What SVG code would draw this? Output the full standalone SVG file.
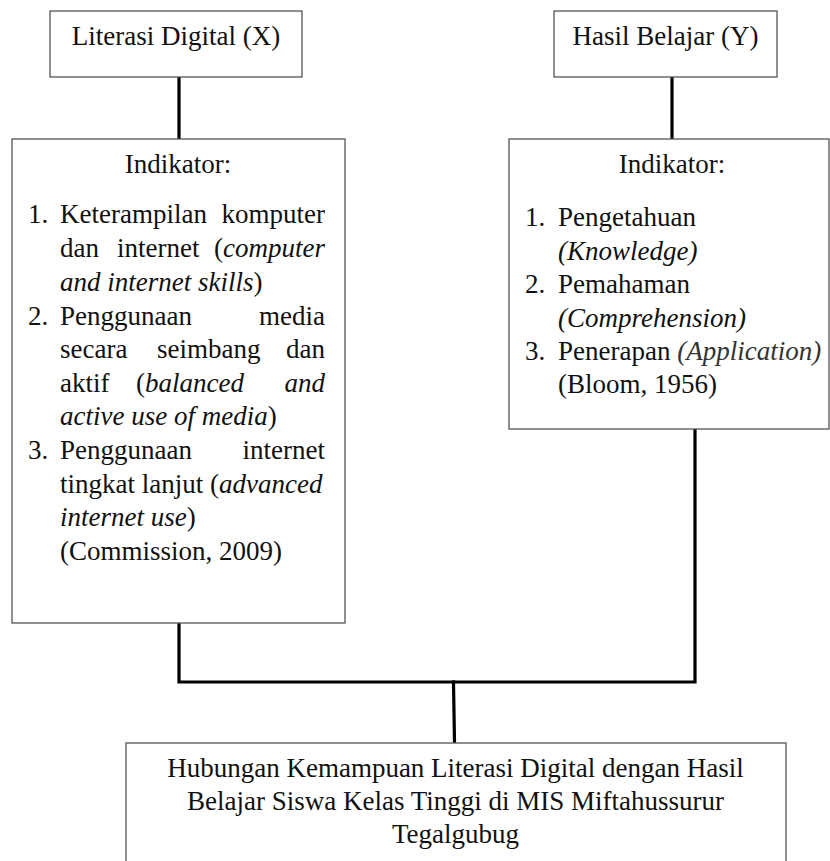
<svg xmlns="http://www.w3.org/2000/svg" width="830" height="861" viewBox="0 0 830 861">
<style>
  text { font-family: "Liberation Serif", "Times New Roman", serif; font-size: 27px; fill: #111; }
  .c { text-anchor: middle; }
  .e { text-anchor: end; }
  .i { font-style: italic; }
  .box { fill: #fff; stroke: #555; stroke-width: 1.3; }
  .conn { fill: none; stroke: #000; stroke-width: 3.2; stroke-linejoin: miter; stroke-linecap: square; }
</style>
<rect width="830" height="861" fill="#fff"/>
<g id="connectors">
  <line class="conn" x1="179" y1="78" x2="179" y2="138"/>
  <line class="conn" x1="672" y1="78" x2="672" y2="138"/>
  <polyline class="conn" points="179,624 179,682 695,682 695,430"/>
  <line class="conn" x1="453.5" y1="682" x2="454.5" y2="742"/>
</g>
<g id="node-x">
  <rect class="box" x="50" y="11" width="252" height="66"/>
  <text class="c" x="176" y="45">Literasi Digital (X)</text>
</g>
<g id="node-y">
  <rect class="box" x="554" y="11" width="223" height="66"/>
  <text class="c" x="665.5" y="45">Hasil Belajar (Y)</text>
</g>
<g id="node-x-indikator">
  <rect class="box" x="12" y="139" width="333" height="484"/>
  <text class="c" x="178" y="173">Indikator:</text>
  <text x="28" y="223">1.</text>
  <text x="60" y="223">Keterampilan</text>
  <text class="e" x="325" y="223">komputer</text>
  <text x="60" y="257">dan</text>
  <text x="117" y="257">internet</text>
  <text class="e" x="325" y="257">(<tspan class="i">computer</tspan></text>
  <text x="60" y="291"><tspan class="i">and internet skills</tspan>)</text>
  <text x="28" y="325">2.</text>
  <text x="60" y="325">Penggunaan</text>
  <text class="e" x="325" y="325">media</text>
  <text x="60" y="358">secara</text>
  <text x="157" y="358">seimbang</text>
  <text class="e" x="325" y="358">dan</text>
  <text x="60" y="392">aktif</text>
  <text x="136" y="392">(<tspan class="i">balanced</tspan></text>
  <text class="e i" x="325" y="392">and</text>
  <text x="60" y="425"><tspan class="i">active use of media</tspan>)</text>
  <text x="28" y="459">3.</text>
  <text x="60" y="459">Penggunaan</text>
  <text class="e" x="325" y="459">internet</text>
  <text x="60" y="493">tingkat lanjut (<tspan class="i">advanced</tspan></text>
  <text x="60" y="526"><tspan class="i">internet use</tspan>)</text>
  <text x="60" y="560">(Commission, 2009)</text>
</g>
<g id="node-y-indikator">
  <rect class="box" x="509" y="139" width="320" height="290"/>
  <text class="c" x="672" y="173">Indikator:</text>
  <text x="525" y="226">1.</text>
  <text x="558" y="226">Pengetahuan</text>
  <text class="i" x="558" y="260" fill="#333">(Knowledge)</text>
  <text x="525" y="293">2.</text>
  <text x="558" y="293">Pemahaman</text>
  <text class="i" x="558" y="327" fill="#333">(Comprehension)</text>
  <text x="525" y="360">3.</text>
  <text x="558" y="360">Penerapan <tspan class="i" fill="#333">(Application)</tspan></text>
  <text x="558" y="393">(Bloom, 1956)</text>
</g>
<g id="node-hubungan">
  <rect class="box" x="126" y="743" width="660" height="140"/>
  <text class="c" x="455.5" y="777">Hubungan Kemampuan Literasi Digital dengan Hasil</text>
  <text class="c" x="455.5" y="810">Belajar Siswa Kelas Tinggi di MIS Miftahussurur</text>
  <text class="c" x="455.5" y="843">Tegalgubug</text>
</g>
</svg>
